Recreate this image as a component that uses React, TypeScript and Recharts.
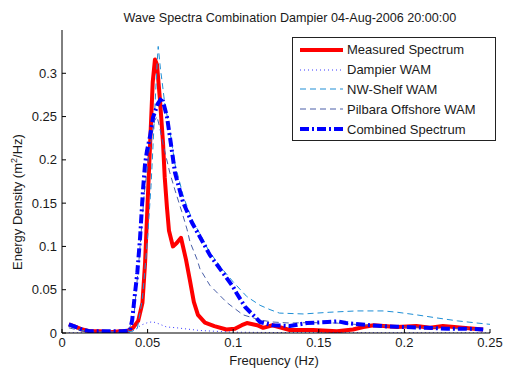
import React from 'react';
import { LineChart, Line, XAxis, YAxis, Legend } from 'recharts';

// ---- data ----
const measuredFreq = [0.004, 0.008, 0.012, 0.016, 0.022, 0.028, 0.034, 0.038, 0.0415, 0.0445, 0.047, 0.0485, 0.05, 0.0515, 0.053, 0.0543, 0.0555, 0.0572, 0.059, 0.06, 0.0613, 0.0625, 0.0648, 0.067, 0.0695, 0.0724, 0.0748, 0.077, 0.0794, 0.0835, 0.089, 0.096, 0.101, 0.105, 0.108, 0.114, 0.1175, 0.123, 0.133, 0.1466, 0.1606, 0.17, 0.176, 0.182, 0.1957, 0.207, 0.215, 0.2225, 0.234, 0.246];
const measuredVal = [0.010, 0.007, 0.004, 0.002, 0.002, 0.001, 0.002, 0.002, 0.006, 0.014, 0.035, 0.08, 0.15, 0.22, 0.29, 0.316, 0.31, 0.27, 0.22, 0.18, 0.145, 0.118, 0.1, 0.104, 0.11, 0.085, 0.06, 0.036, 0.021, 0.012, 0.008, 0.004, 0.005, 0.009, 0.0115, 0.009, 0.006, 0.009, 0.0035, 0.0035, 0.002, 0.004, 0.007, 0.009, 0.007, 0.008, 0.006, 0.008, 0.006, 0.004];

const dampierFreq = [0.004, 0.03, 0.04, 0.043, 0.046, 0.05, 0.053, 0.056, 0.061, 0.067, 0.073, 0.08, 0.0865, 0.1, 0.12, 0.15, 0.2, 0.25];
const dampierVal = [0.0003, 0.0003, 0.001, 0.004, 0.009, 0.012, 0.013, 0.011, 0.007, 0.006, 0.0046, 0.003, 0.0023, 0.001, 0.0006, 0.0004, 0.0003, 0.0002];

const nwShelfFreq = [0.004, 0.012, 0.02, 0.035, 0.041, 0.044, 0.047, 0.05, 0.052, 0.054, 0.0555, 0.0562, 0.0575, 0.0585, 0.06, 0.0625, 0.066, 0.071, 0.076, 0.081, 0.086, 0.094, 0.1, 0.108, 0.1157, 0.1215, 0.127, 0.141, 0.1565, 0.172, 0.1875, 0.1957, 0.207, 0.219, 0.231, 0.242, 0.25];
const nwShelfVal = [0.008, 0.003, 0.001, 0.001, 0.002, 0.005, 0.04, 0.11, 0.17, 0.25, 0.31, 0.331, 0.305, 0.29, 0.265, 0.24, 0.195, 0.157, 0.131, 0.113, 0.094, 0.073, 0.059, 0.042, 0.032, 0.027, 0.023, 0.022, 0.024, 0.0255, 0.0255, 0.024, 0.021, 0.0174, 0.014, 0.0116, 0.01];

const pilbaraFreq = [0.004, 0.012, 0.02, 0.035, 0.039, 0.042, 0.045, 0.048, 0.051, 0.054, 0.0555, 0.057, 0.06, 0.063, 0.066, 0.07, 0.073, 0.0748, 0.0789, 0.0806, 0.0864, 0.0964, 0.1057, 0.1157, 0.123, 0.133, 0.145, 0.16, 0.175, 0.19, 0.2, 0.22, 0.235, 0.246];
const pilbaraVal = [0.006, 0.002, 0.001, 0.001, 0.003, 0.02, 0.085, 0.16, 0.21, 0.245, 0.25, 0.238, 0.21, 0.185, 0.165, 0.14, 0.12, 0.105, 0.085, 0.074, 0.055, 0.035, 0.021, 0.015, 0.0127, 0.0115, 0.012, 0.0115, 0.0095, 0.008, 0.007, 0.006, 0.005, 0.004];

const combinedFreq = [0.004, 0.008, 0.012, 0.016, 0.025, 0.035, 0.0397, 0.041, 0.0426, 0.044, 0.0456, 0.0473, 0.0485, 0.0496, 0.0514, 0.0532, 0.056, 0.0584, 0.0613, 0.063, 0.066, 0.0707, 0.076, 0.0806, 0.0864, 0.094, 0.1, 0.102, 0.107, 0.11, 0.1157, 0.123, 0.133, 0.143, 0.155, 0.161, 0.166, 0.178, 0.19, 0.2, 0.213, 0.225, 0.236, 0.246];
const combinedVal = [0.01, 0.007, 0.004, 0.002, 0.002, 0.002, 0.003, 0.015, 0.045, 0.07, 0.11, 0.165, 0.195, 0.21, 0.227, 0.249, 0.265, 0.272, 0.25, 0.227, 0.185, 0.151, 0.127, 0.111, 0.09, 0.0695, 0.053, 0.046, 0.03, 0.024, 0.0127, 0.009, 0.008, 0.0115, 0.0127, 0.0135, 0.0115, 0.0093, 0.0075, 0.007, 0.006, 0.005, 0.005, 0.004];

const xTicks = [0, 0.05, 0.1, 0.15, 0.2, 0.25];
const yTicks = [0, 0.05, 0.1, 0.15, 0.2, 0.25, 0.3];
const xLabels = ['0', '0.05', '0.1', '0.15', '0.2', '0.25'];
const yLabels = ['0', '0.05', '0.1', '0.15', '0.2', '0.25', '0.3'];

const seriesNames = ['Measured Spectrum', 'Dampier WAM', 'NW-Shelf WAM', 'Pilbara Offshore WAM', 'Combined Spectrum'];

const toPoints = (f: number[], v: number[]) => f.map((x, i) => ({ f: x, v: v[i] }));

const series = [
  { name: seriesNames[0], data: toPoints(measuredFreq, measuredVal), color: '#ff0000', width: 4, dash: undefined as string | undefined },
  { name: seriesNames[1], data: toPoints(dampierFreq, dampierVal), color: '#3a3aff', width: 1, dash: '1 3' },
  { name: seriesNames[2], data: toPoints(nwShelfFreq, nwShelfVal), color: '#1f8fd6', width: 1, dash: '6 4' },
  { name: seriesNames[3], data: toPoints(pilbaraFreq, pilbaraVal), color: '#4a5fa8', width: 1, dash: '6 4' },
  { name: seriesNames[4], data: toPoints(combinedFreq, combinedVal), color: '#0000ff', width: 4, dash: '9 3 2 3' },
];

const FONT = '"Liberation Sans", Arial, Helvetica, sans-serif';
const TXT = '#1a1a1a';

const YTick = (props: any) => {
  const { x, y, payload } = props;
  const i = yTicks.indexOf(payload.value);
  return (
    <g>
      <line x1={x + 5} x2={x + 9} y1={y} y2={y} stroke="#000" strokeWidth={1} />
      <text x={x} y={y} dy="0.35em" textAnchor="end" fontSize={13} fontFamily={FONT} fill={TXT}>
        {i >= 0 ? yLabels[i] : String(payload.value)}
      </text>
    </g>
  );
};

const XTick = (props: any) => {
  const { x, y, payload } = props;
  const i = xTicks.indexOf(payload.value);
  return (
    <g>
      <line x1={x} x2={x} y1={y - 5} y2={y - 9} stroke="#000" strokeWidth={1} />
      <text x={x} y={y} dy="0.72em" textAnchor="middle" fontSize={13} fontFamily={FONT} fill={TXT}>
        {i >= 0 ? xLabels[i] : String(payload.value)}
      </text>
    </g>
  );
};

const LegendBox = () => (
  <div
    style={{
      border: '1px solid #222',
      background: '#fff',
      width: 202,
      height: 100,
      boxSizing: 'content-box',
      paddingTop: 2,
      fontFamily: FONT,
      fontSize: 13,
      color: TXT,
    }}
  >
    {series.map((s) => (
      <div key={s.name} style={{ display: 'flex', alignItems: 'center', height: 19.8, whiteSpace: 'nowrap' }}>
        <svg width={52} height={10} style={{ display: 'block' }}>
          <line x1={7} x2={50} y1={5} y2={5} stroke={s.color} strokeWidth={s.width} strokeDasharray={s.dash} />
        </svg>
        <span style={{ marginLeft: 2 }}>{s.name}</span>
      </div>
    ))}
  </div>
);

export default function App() {
  return (
    <div style={{ position: 'absolute', left: 0, top: 0, width: 505, height: 372, background: '#fff' }}>
      <LineChart width={505} height={372} margin={{ top: 30, right: 15, left: 0, bottom: 0 }}>
        <XAxis
          dataKey="f"
          type="number"
          domain={[0, 0.25]}
          ticks={xTicks}
          allowDataOverflow
          height={39}
          tickSize={0}
          tickMargin={5}
          tickLine={false}
          stroke="#000"
          tick={<XTick />}
          interval={0}
        />
        <YAxis
          type="number"
          domain={[0, 0.35]}
          ticks={yTicks}
          allowDataOverflow
          width={62}
          tickSize={0}
          tickMargin={5}
          tickLine={false}
          stroke="#000"
          tick={<YTick />}
          interval={0}
        />
        <Legend
          layout="vertical"
          align="center"
          verticalAlign="middle"
          content={<LegendBox />}
          wrapperStyle={{ position: 'absolute', left: 292, top: 37, width: 204, height: 104 }}
        />
        {series.map((s) => (
          <Line
            key={s.name}
            name={s.name}
            data={s.data}
            dataKey="v"
            type="linear"
            stroke={s.color}
            strokeWidth={s.width}
            strokeDasharray={s.dash}
            dot={false}
            activeDot={false}
            isAnimationActive={false}
            strokeLinejoin="round"
          />
        ))}
        <text x={290} y={22} textAnchor="middle" fontSize={12.6} fontFamily={FONT} fill={TXT}>
          Wave Spectra Combination Dampier 04-Aug-2006 20:00:00
        </text>
        <text x={274} y={365} textAnchor="middle" fontSize={13} fontFamily={FONT} fill={TXT}>
          Frequency (Hz)
        </text>
        <text x={22} y={202} textAnchor="middle" fontSize={13} fontFamily={FONT} fill={TXT} transform="rotate(-90 22 202)">
          Energy Density (m<tspan dy={-5} fontSize={9}>2</tspan><tspan dy={5}>/Hz)</tspan>
        </text>
      </LineChart>
    </div>
  );
}
